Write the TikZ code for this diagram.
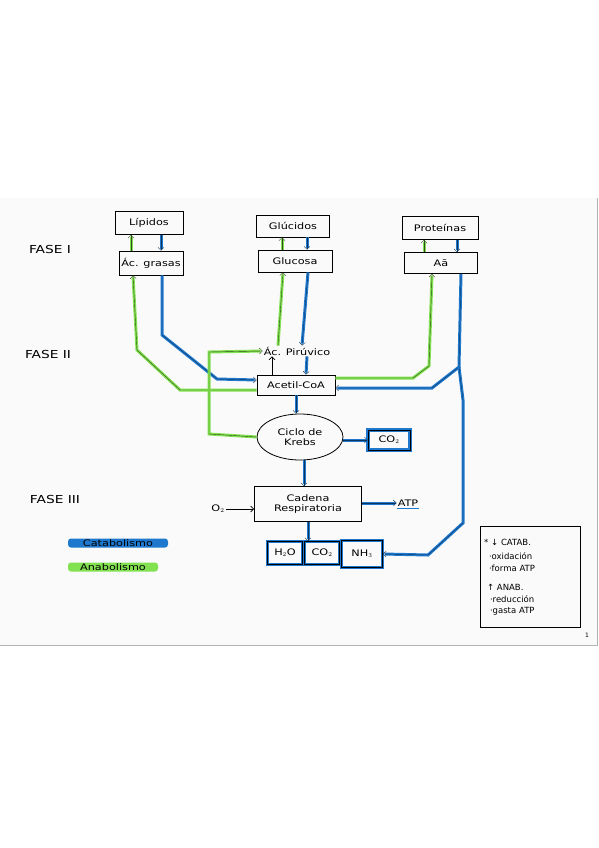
\documentclass[tikz,border=0pt]{standalone}
\usepackage{fontspec}
\setmainfont{DejaVu Sans}
\newfontfamily\hand[FakeStretch=1.25]{DejaVu Sans}
\usetikzlibrary{shapes.geometric,arrows.meta,calc}
\definecolor{mblue}{RGB}{30,120,205}
\definecolor{mgreen}{RGB}{130,225,80}
\begin{document}
\begin{tikzpicture}[x=1pt,y=-1pt,
  bx/.style={draw=black, line width=0.8pt, inner sep=1pt, font=\hand\fontsize{9}{10}\selectfont},
  bbx/.style={bx, preaction={draw=mblue, line width=3.6pt}},
  txt/.style={inner sep=1pt, font=\hand\fontsize{9}{10}\selectfont},
  lbl/.style={inner sep=1pt, font=\hand\fontsize{11}{12}\selectfont},
  tip/.style={-{Straight Barb[length=3pt,width=6pt]}},
  cat/.style={draw=mblue!45!black, line width=0.4pt, tip, preaction={draw=mblue, line width=3pt, -, shorten >=2pt}},
  ana/.style={draw=mgreen!35!black, line width=0.4pt, tip, preaction={draw=mgreen, line width=3pt, -, shorten >=2pt}},
  blk/.style={draw=black, line width=0.7pt, tip}]
\useasboundingbox (0,0) rectangle (599,848);
\fill[white] (0,0) rectangle (599,848);
\fill[black!2] (0,198) rectangle (597,645);
\draw[black!30, line width=0.6pt] (597,198) -- (597,645) -- (0,645);

% phase labels
\node[lbl] (f1) at (50,249) {FASE I};
\node[lbl] (f2) at (48,354) {FASE II};
\node[lbl] (f3) at (55,499) {FASE III};
\node[txt, fill=mblue, rounded corners=3pt, minimum width=100pt, minimum height=9pt] (cata) at (118,543) {Catabolismo};
\node[txt, fill=mgreen, rounded corners=3pt, minimum width=90pt, minimum height=9pt] (anab) at (113,567) {Anabolismo};

% boxes
\node[bx, minimum width=68pt, minimum height=23pt] (lip) at (149,223) {Lípidos};
\node[bx, minimum width=64pt, minimum height=24pt] (gra) at (151,263) {Ác. grasas};
\node[bx, minimum width=73pt, minimum height=22pt] (glu) at (293,226) {Glúcidos};
\node[bx, minimum width=74pt, minimum height=22pt] (gls) at (295,261) {Glucosa};
\node[bx, minimum width=76pt, minimum height=23pt] (pro) at (440,228) {Proteínas};
\node[bx, minimum width=73pt, minimum height=21pt] (aa) at (441,263) {A\=a};
\node[txt] (pir) at (297,351) {Ác. Pirúvico};
\node[bx, minimum width=78pt, minimum height=20pt] (ace) at (296,385) {Acetil-CoA};
\node[bx, ellipse, minimum width=86pt, minimum height=46pt, align=center] (kre) at (300,437) {Ciclo de\\Krebs};
\node[bbx, minimum width=42pt, minimum height=20pt] (co2a) at (389,440) {CO$_2$};
\node[bx, minimum width=107pt, minimum height=35pt, align=center] (cad) at (308,504) {Cadena\\Respiratoria};
\node[txt] (o2) at (218,509) {O$_2$};
\node[txt] (atp) at (408,503) {ATP};
\draw[mblue, line width=1.6pt] ([yshift=-1pt]atp.south west) -- ([yshift=-1pt]atp.south east);
\node[bbx, minimum width=35pt, minimum height=23pt] (h2o) at (285,553) {H$_2$O};
\node[bbx, minimum width=35pt, minimum height=23pt] (co2b) at (322,553) {CO$_2$};
\node[bbx, minimum width=41pt, minimum height=27pt] (nh3) at (362,554) {NH$_3$};

% legend
\node[draw=black, line width=0.8pt, minimum width=100pt, minimum height=101pt, text width=92pt, align=left, inner sep=3pt,
      font=\fontsize{8.5}{11.5}\selectfont] (leg) at (530,577)
  {* ↓ CATAB.\\[3pt]
   \hspace{5pt}·oxidación\\
   \hspace{5pt}·forma ATP\\[8pt]
   \hspace{3pt}↑ ANAB.\\
   \hspace{6pt}·reducción\\
   \hspace{6pt}·gasta ATP};
\node[inner sep=0pt, font=\fontsize{6}{6}\selectfont] (pg) at (587,635) {1};

% phase I arrows
\draw[ana] ([xshift=-20pt]gra.north) -- ([xshift=-18pt]lip.south);
\draw[cat] ([xshift=12pt]lip.south) -- ([xshift=10pt]gra.north);
\draw[ana] ([xshift=-13pt]gls.north) -- ([xshift=-11pt]glu.south);
\draw[cat] ([xshift=14pt]glu.south) -- ([xshift=12pt]gls.north);
\draw[ana] ([xshift=-17pt]aa.north) -- ([xshift=-16pt]pro.south);
\draw[cat] ([xshift=17pt]pro.south) -- ([xshift=16pt]aa.north);

% fatty acids
\draw[ana] ([yshift=-5pt]ace.west) -- (180,390) -- (137,350) -- ([xshift=-18pt]gra.south);
\draw[cat] ([xshift=11pt]gra.south) -- (162,335) -- (217,379) -- ([yshift=5pt]ace.west);

% glucose
\draw[ana] ([xshift=-19pt]pir.north) -- ([xshift=-12pt]gls.south);
\draw[cat] ([xshift=13pt]gls.south) -- ([xshift=5pt]pir.north);

% pyruvate <-> acetyl
\draw[blk, line width=0.6pt] ([xshift=-24pt]ace.north) -- ([xshift=-25pt]pir.south);
\draw[cat] ([xshift=10pt]pir.south) -- ([xshift=10pt]ace.north);

% Krebs -> pyruvate loop
\draw[ana] (kre.west) -- (209,434) -- (209,352) -- (pir.west);

% amino acids
\draw[ana] ([yshift=7pt]ace.east) -- (413,378) -- (429,366) -- ([xshift=-9pt]aa.south);
\draw[cat] ([xshift=20pt]aa.south) -- (459,367) -- (432,388) -- ([yshift=-3pt]ace.east);
\draw[cat] (459,367) -- (463,400) -- (463,523) -- (428,555) -- (nh3.east);

% catabolic chain
\draw[cat] (ace.south) -- (ace.south |- kre.north);
\draw[cat] (kre.east |- co2a.west) -- (co2a.west);
\draw[cat] ([xshift=4pt]kre.south) -- ([xshift=-4pt]cad.north);
\draw[blk] (o2.east) -- (cad.west |- o2.east);
\draw[cat] (cad.east |- atp.west) -- (atp.west);
\draw[cat] (cad.south) -- (cad.south |- co2b.north);
\end{tikzpicture}
\end{document}
